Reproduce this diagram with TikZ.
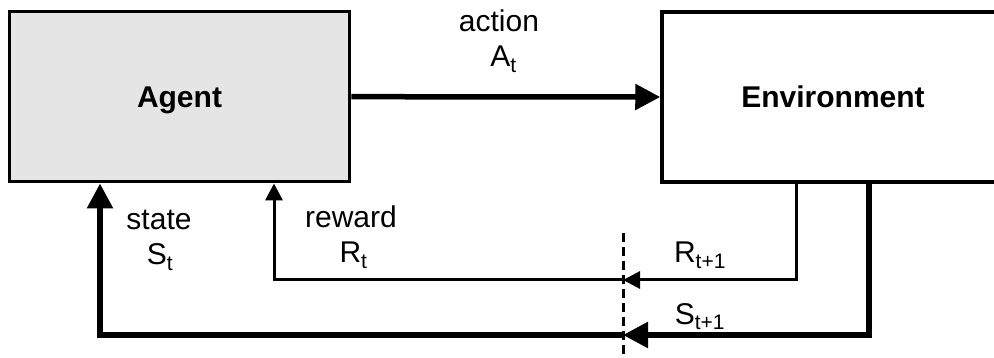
\documentclass[tikz,border=0pt]{standalone}
\usepackage{fontspec}
\setmainfont{Liberation Sans}
\usetikzlibrary{arrows.meta}
\definecolor{agentfill}{HTML}{E5E5E5}
\begin{document}
\begin{tikzpicture}[x=1pt,y=-1pt,
  block/.style={draw=black, line width=3.5pt, minimum width=340pt, minimum height=170pt,
    inner sep=0pt, text depth=0pt, font=\fontsize{30}{36}\selectfont\bfseries},
  lbl/.style={inner sep=0pt, anchor=base, font=\fontsize{30}{36}\selectfont},
  thinflow/.style={line width=3pt, -{Triangle[length=17pt,width=17pt]}},
  thickflow/.style={line width=5.5pt, -{Triangle[length=25pt,width=25pt]}},
  cutline/.style={line width=3pt, dash pattern=on 9pt off 5pt}]
\useasboundingbox (0,0) rectangle (994,358);
\clip (0,0) rectangle (994,358);

% the two blocks
\node[block, fill=agentfill] (agent) at (179.5,96.7) {Agent};
\node[block, minimum width=342pt] (env) at (833,97) {Environment};

% action
\draw[thickflow] (agent.east) -- (env.west);
\node[lbl] (actword) at (499,32) {action};
\node[lbl] (actsym) at (503.5,67) {A\textsubscript{t}};

% time-step boundary
\coordinate (cuttop) at (623,233);
\coordinate (cutbot) at (623,362);
\draw[cutline] (cuttop) -- (cutbot);

% reward loop
\coordinate (rcross) at (623,280);
\draw[thinflow] ([xshift=-37pt]env.south) |- (rcross);
\draw[thinflow] (rcross) -| ([xshift=94.5pt]agent.south);
\node[lbl] (rword) at (351,228) {reward};
\node[lbl] (rnow) at (353.5,263) {R\textsubscript{t}};
\node[lbl] (rnext) at (700,263) {R\textsubscript{t+1}};

% state loop
\coordinate (scross) at (623,335);
\draw[thickflow] ([xshift=36pt]env.south) |- (scross);
\draw[thickflow] (scross) -| ([xshift=-79.5pt]agent.south);
\node[lbl] (sword) at (159,230) {state};
\node[lbl] (snow) at (160,265) {S\textsubscript{t}};
\node[lbl] (snext) at (700,324) {S\textsubscript{t+1}};
\end{tikzpicture}
\end{document}
